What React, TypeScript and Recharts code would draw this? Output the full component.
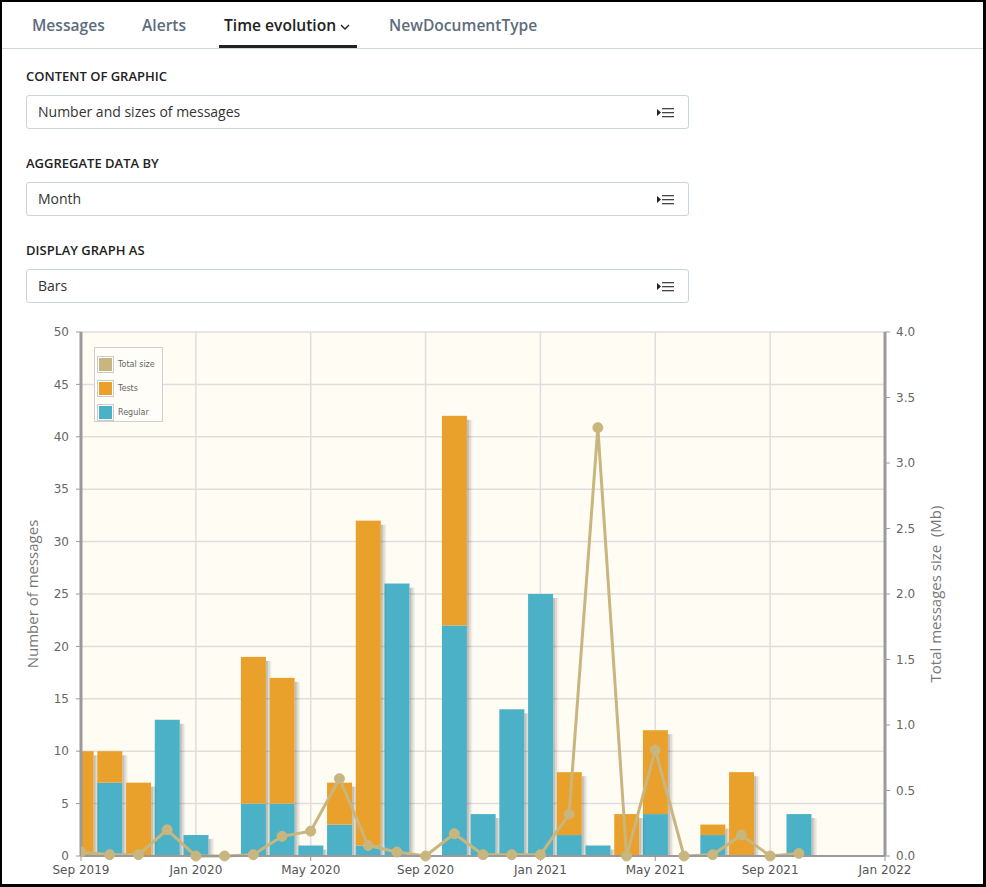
import React from 'react';
import { ComposedChart, Bar, Line, XAxis, YAxis, CartesianGrid, Legend } from 'recharts';

// monthly data, Sep 2019 .. Oct 2021
const months = [
  'Sep 2019', 'Oct 2019', 'Nov 2019', 'Dec 2019', 'Jan 2020', 'Feb 2020', 'Mar 2020', 'Apr 2020',
  'May 2020', 'Jun 2020', 'Jul 2020', 'Aug 2020', 'Sep 2020', 'Oct 2020', 'Nov 2020', 'Dec 2020',
  'Jan 2021', 'Feb 2021', 'Mar 2021', 'Apr 2021', 'May 2021', 'Jun 2021', 'Jul 2021', 'Aug 2021',
  'Sep 2021', 'Oct 2021',
];
const regular = [0, 7, 0, 13, 2, 0, 5, 5, 1, 3, 1, 26, 0, 22, 4, 14, 25, 2, 1, 0, 4, 0, 2, 0, 0, 4];
const tests = [10, 3, 7, 0, 0, 0, 14, 12, 0, 4, 31, 0, 0, 20, 0, 0, 0, 6, 0, 4, 8, 0, 1, 8, 0, 0];
const totalSize = [
  0.03, 0.01, 0.01, 0.2, 0, 0, 0.01, 0.15, 0.19, 0.59, 0.08, 0.03, 0, 0.17, 0.01, 0.01,
  0.01, 0.32, 3.27, 0, 0.81, 0, 0.01, 0.16, 0, 0.02,
];
const tickLabels = ['Sep 2019', 'Jan 2020', 'May 2020', 'Sep 2020', 'Jan 2021', 'May 2021', 'Sep 2021', 'Jan 2022'];
const leftTicks = [0, 5, 10, 15, 20, 25, 30, 35, 40, 45, 50];
const rightTicks = [0, 0.5, 1, 1.5, 2, 2.5, 3, 3.5, 4];

const BLUE = '#4bb1c6';
const ORANGE = '#e9a12b';
const TAN = '#c9b67f';

const data = months.map((m, i) => ({
  x: i,
  month: m,
  regular: regular[i],
  tests: tests[i],
  size: totalSize[i],
}));

const ShadowBar = (props: any) => {
  const { x, y, width, height, fill, payload, dataKey } = props;
  if (!height || height <= 0) return <g />;
  const top = dataKey === 'regular' && payload.tests > 0 ? 0 : 4;
  const h = Math.max(0, height - top);
  return (
    <g>
      <rect x={x + width} y={y + top} width={2} height={h} fill="rgba(0,0,0,0.24)" />
      <rect x={x + width + 2} y={y + top} width={2} height={h} fill="rgba(0,0,0,0.13)" />
      <rect x={x + width + 4} y={y + top} width={1.5} height={h} fill="rgba(0,0,0,0.05)" />
      <rect x={x} y={y} width={width} height={height} fill={fill} />
    </g>
  );
};

const legendItems = [
  { name: 'Total size', color: TAN },
  { name: 'Tests', color: ORANGE },
  { name: 'Regular', color: BLUE },
];

const ChartLegend = () => (
  <div
    style={{
      width: 69,
      height: 75,
      border: '1px solid #cfcfcf',
      background: '#fffdf8',
      boxSizing: 'border-box',
      paddingTop: 4,
      paddingLeft: 2,
      fontFamily: '"DejaVu Sans", sans-serif',
      fontSize: 8,
      color: '#666',
    }}
  >
    {legendItems.map((it) => (
      <div key={it.name} style={{ display: 'flex', alignItems: 'center', height: 24 }}>
        <div style={{ width: 13, height: 13, border: '1px solid #ccc', background: '#fff', padding: 1, boxSizing: 'content-box' }}>
          <div style={{ width: 13, height: 13, background: it.color }} />
        </div>
        <span style={{ marginLeft: 4 }}>{it.name}</span>
      </div>
    ))}
  </div>
);

const leftLabel = (props: any) => {
  const vb = props.viewBox;
  const cx = vb.x + 34;
  const cy = vb.y + vb.height / 2;
  return (
    <text x={cx} y={cy} transform={`rotate(-90, ${cx}, ${cy})`} textAnchor="middle" dominantBaseline="middle"
      fill="#777" fontSize={15} fontFamily='"Open Sans", sans-serif'>
      Number of messages
    </text>
  );
};

const rightLabel = (props: any) => {
  const vb = props.viewBox;
  const cx = vb.x + 52;
  const cy = vb.y + vb.height / 2;
  return (
    <text x={cx} y={cy} transform={`rotate(-90, ${cx}, ${cy})`} textAnchor="middle" dominantBaseline="middle"
      fill="#777" fontSize={15} fontFamily='"Open Sans", sans-serif' style={{ whiteSpace: 'pre' }}>
      {'Total messages size  (Mb)'}
    </text>
  );
};

const MenuIcon = () => (
  <svg width={18} height={12} style={{ position: 'absolute', right: 13, top: 11 }}>
    <polygon points="0,2 4,5.5 0,9" fill="#222" />
    <rect x={5} y={1} width={12} height={1.3} fill="#444" />
    <rect x={5} y={5} width={12} height={1.3} fill="#444" />
    <rect x={5} y={9} width={12} height={1.3} fill="#444" />
  </svg>
);

const Select = ({ top, label, value }: { top: number; label: string; value: string }) => (
  <>
    <div style={{ position: 'absolute', left: 26, top: top, fontSize: 13, fontWeight: 600, color: '#222' }}>{label}</div>
    <div
      style={{
        position: 'absolute',
        left: 26,
        top: top + 28,
        width: 663,
        height: 34,
        border: '1px solid #c8d5de',
        borderRadius: 3,
        boxSizing: 'border-box',
        background: '#fff',
      }}
    >
      <div style={{ position: 'absolute', left: 11, top: 6, fontSize: 14, color: '#333' }}>{value}</div>
      <MenuIcon />
    </div>
  </>
);

const tabs = [
  { name: 'Messages', left: 32 },
  { name: 'Alerts', left: 142 },
  { name: 'Time evolution', left: 224 },
  { name: 'NewDocumentType', left: 389 },
];

export default function App() {
  return (
    <div style={{ position: 'relative', width: 986, height: 887, background: '#fff', fontFamily: '"Open Sans", sans-serif', overflow: 'hidden' }}>
      <style>{'body{margin:0}'}</style>
      {tabs.map((t) => (
        <div key={t.name} style={{ position: 'absolute', left: t.left, top: 14, fontSize: 15.6, fontWeight: 600, color: t.name === 'Time evolution' ? '#222' : '#5d6d7c' }}>
          {t.name}
          {t.name === 'Time evolution' && (
            <svg width={10} height={8} style={{ marginLeft: 4, verticalAlign: 'middle' }}>
              <polyline points="1,2 5,6 9,2" fill="none" stroke="#222" strokeWidth={1.4} />
            </svg>
          )}
        </div>
      ))}
      <div style={{ position: 'absolute', left: 219, top: 45, width: 138, height: 3, background: '#222' }} />
      <div style={{ position: 'absolute', left: 0, top: 48, width: 986, height: 1, background: '#cbd6de' }} />

      <Select top={67} label="CONTENT OF GRAPHIC" value="Number and sizes of messages" />
      <Select top={154} label="AGGREGATE DATA BY" value="Month" />
      <Select top={241} label="DISPLAY GRAPH AS" value="Bars" />

      <div style={{ position: 'absolute', left: 0, top: 320 }}>
        <ComposedChart width={986} height={567} data={data} margin={{ top: 12, right: 0, bottom: 1, left: 0 }}>
          <CartesianGrid yAxisId="left" stroke="#dedede" strokeWidth={1.5} fill="#fffcf4" />
          <XAxis
            dataKey="x"
            type="number"
            domain={[0, 28]}
            ticks={[0, 4, 8, 12, 16, 20, 24, 28]}
            tickFormatter={(v: number) => tickLabels[v / 4]}
            interval={0}
            allowDataOverflow
            height={30}
            tickSize={5}
            tickMargin={4}
            axisLine={{ stroke: '#9a9a9a', strokeWidth: 2 }}
            tickLine={{ stroke: '#9a9a9a' }}
            tick={{ fill: '#555', fontSize: 12, fontFamily: '"DejaVu Sans", sans-serif' }}
          />
          <YAxis
            yAxisId="left"
            domain={[0, 50]}
            ticks={leftTicks}
            interval={0}
            width={81}
            tickSize={5}
            tickMargin={7}
            axisLine={{ stroke: '#9a9a9a', strokeWidth: 3 }}
            tickLine={{ stroke: '#9a9a9a' }}
            tick={{ fill: '#666', fontSize: 12, fontFamily: '"DejaVu Sans", sans-serif' }}
            label={leftLabel}
          />
          <YAxis
            yAxisId="right"
            orientation="right"
            domain={[0, 4]}
            ticks={rightTicks}
            interval={0}
            width={101}
            tickSize={5}
            tickMargin={6}
            tickFormatter={(v: number) => v.toFixed(1)}
            axisLine={{ stroke: '#9a9a9a', strokeWidth: 3 }}
            tickLine={{ stroke: '#9a9a9a' }}
            tick={{ fill: '#666', fontSize: 12, fontFamily: '"DejaVu Sans", sans-serif' }}
            label={rightLabel}
          />
          <Legend
            layout="vertical"
            align="center"
            verticalAlign="middle"
            content={() => <ChartLegend />}
            wrapperStyle={{ left: 94, top: 27, width: 'auto', height: 'auto' }}
          />
          <Bar yAxisId="left" dataKey="regular" name="Regular" stackId="a" fill={BLUE} barSize={25} shape={ShadowBar} isAnimationActive={false} />
          <Bar yAxisId="left" dataKey="tests" name="Tests" stackId="a" fill={ORANGE} barSize={25} shape={ShadowBar} isAnimationActive={false} />
          <Line
            yAxisId="right"
            dataKey="size"
            name="Total size"
            type="linear"
            stroke={TAN}
            strokeWidth={3}
            dot={{ r: 5, fill: TAN, stroke: TAN, strokeWidth: 1 }}
            activeDot={false}
            isAnimationActive={false}
          />
        </ComposedChart>
      </div>

      <div style={{ position: 'absolute', left: 0, top: 0, width: 986, height: 887, boxSizing: 'border-box', borderStyle: 'solid', borderColor: '#000', borderWidth: '2px 3px 3px 2px', pointerEvents: 'none' }} />
    </div>
  );
}
